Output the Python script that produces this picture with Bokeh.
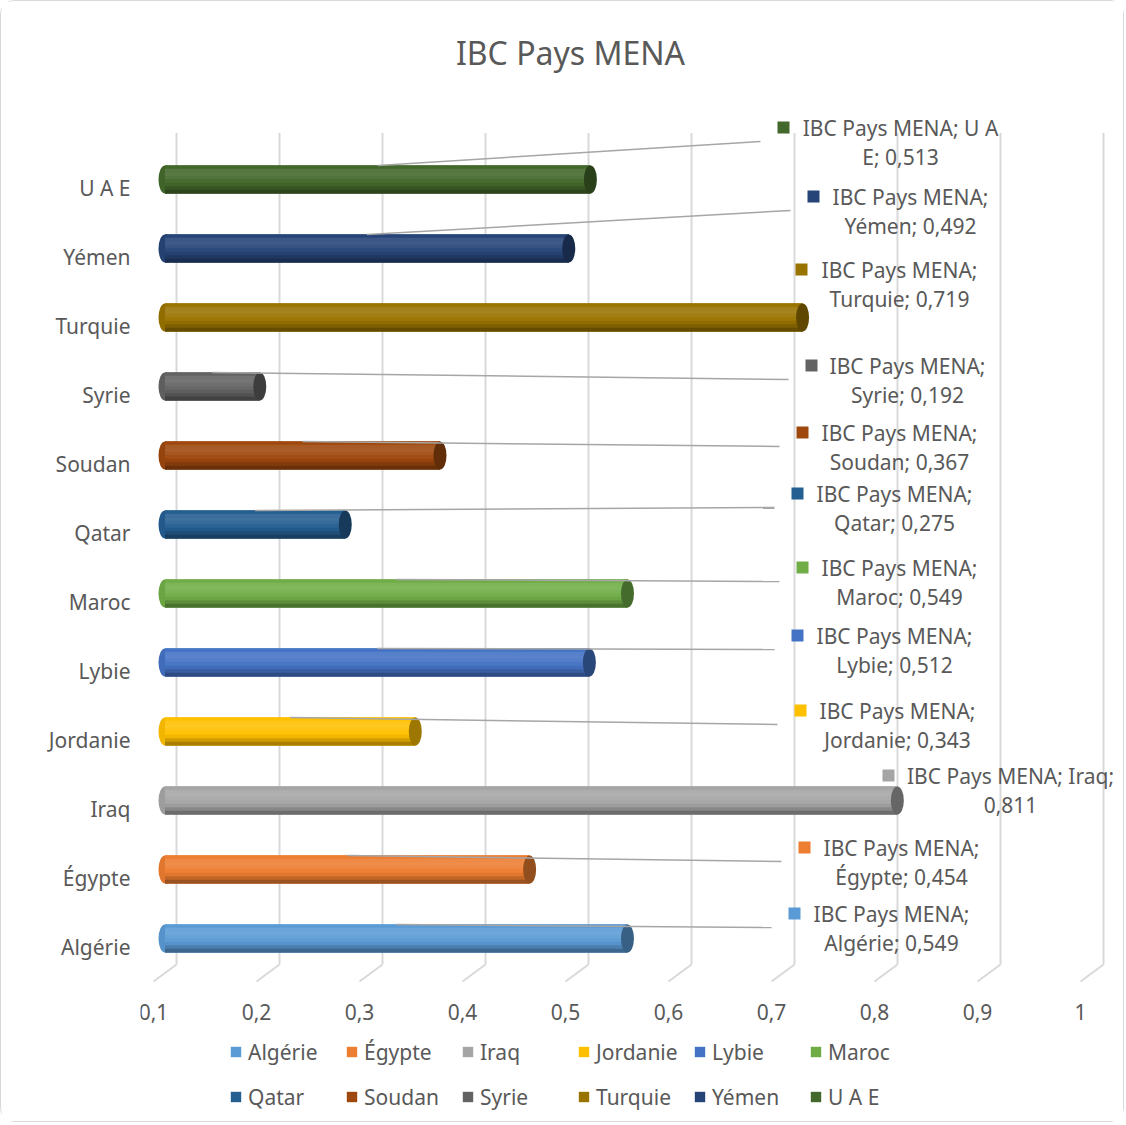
import numpy as np
from bokeh.plotting import figure
from bokeh.models import (Range1d, LinearAxis, FixedTicker, ColumnDataSource,
                          Legend, LegendItem)
from bokeh.core.properties import value
from bokeh.embed import file_html
from bokeh.resources import INLINE

# ---------------- data ----------------
SERIES = "IBC Pays MENA"
CATEGORIES = ["Algérie", "Égypte", "Iraq", "Jordanie", "Lybie", "Maroc",
              "Qatar", "Soudan", "Syrie", "Turquie", "Yémen", "U A E"]
VALUES = [0.549, 0.454, 0.811, 0.343, 0.512, 0.549,
          0.275, 0.367, 0.192, 0.719, 0.492, 0.513]
COLORS = ["#5B9BD5", "#ED7D31", "#A5A5A5", "#FFC000", "#4472C4", "#70AD47",
          "#255E91", "#9E480E", "#636363", "#997300", "#264478", "#43682B"]
TICKS = [0.1, 0.2, 0.3, 0.4, 0.5, 0.6, 0.7, 0.8, 0.9, 1.0]
TICK_LABELS = ["0,1", "0,2", "0,3", "0,4", "0,5", "0,6", "0,7", "0,8", "0,9", "1"]
AXIS_MIN = 0.1

# ---------------- layout (page pixels) ----------------
FONT = "Noto Sans"
TXT = "#595959"
ORIGIN = 1            # page px of the canvas' top-left corner
CANVAS_W, CANVAS_H = 1124, 1122
PX_PER_X = 1030.0
PX_PER_CAT = 69.0
X_ORIGIN_PX = 164.5
Y_CAT0_PX = 938.0
DEPTH_DX = 11.5
DEPTH_DY = 8.5
FRAME_L = 140
FRAME_T = ORIGIN
FRAME_R = ORIGIN + CANVAS_W - 1
FRAME_B = ORIGIN + CANVAS_H
TITLE_X, TITLE_Y = 570, 52
TICK_LABEL_Y = 1011
LEGEND_X = 229
LEGEND_ROWS_Y = [1052, 1097]

# data-label placement: square x, first-line y, text centre x, words on line 1
LABEL_SQ_X = [794, 804, 888, 800, 797, 802, 797, 802, 811, 801, 813, 783]
LABEL_L1_Y = [913, 847, 775, 710, 635, 567, 493, 432, 365, 269, 196, 127]
LABEL_CX = [891, 901, 1010, 897, 894, 899, 894, 899, 907, 899, 910, 900]
LABEL_WORDS1 = [3, 3, 4, 3, 3, 3, 3, 3, 3, 3, 3, 5]
LABEL_LEADER = [1, 1, 0, 1, 1, 1, 1, 1, 1, 0, 1, 1]


def xd(px):
    return AXIS_MIN + (px - X_ORIGIN_PX) / PX_PER_X


def yd(py):
    return (Y_CAT0_PX - py) / PX_PER_CAT


def mix(hexc, f):
    h = hexc.lstrip("#")
    r, g, b = (int(h[i:i + 2], 16) for i in (0, 2, 4))
    t = 255 if f > 0 else 0
    a = abs(f)
    r, g, b = (round(c + (t - c) * a) for c in (r, g, b))
    return "#%02x%02x%02x" % (r, g, b)


p = figure(width=CANVAS_W, height=CANVAS_H,
           x_range=Range1d(xd(FRAME_L), xd(FRAME_R)),
           y_range=Range1d(yd(FRAME_B), yd(FRAME_T)),
           output_backend="svg", toolbar_location=None,
           x_axis_type=None, y_axis_type=None,
           min_border_left=FRAME_L - ORIGIN,
           min_border_right=ORIGIN + CANVAS_W - FRAME_R,
           min_border_top=0, min_border_bottom=0)
p.outline_line_color = None
p.background_fill_color = "white"
p.border_fill_color = "white"
p.styles = {"border": "1px solid #d9d9d9", "border-radius": "14px"}

ddx = DEPTH_DX / PX_PER_X
ddy = DEPTH_DY / PX_PER_CAT
p.extra_y_ranges = {"front": Range1d(yd(FRAME_B) + ddy, yd(FRAME_T) + ddy)}

# title
p.text(x=[xd(TITLE_X)], y=[yd(TITLE_Y)], text=[SERIES], text_align="center",
       text_baseline="middle", text_font=value(FONT), text_font_size="32px",
       text_color=TXT)

# category axis (front plane)
yaxis = LinearAxis(y_range_name="front",
                   ticker=FixedTicker(ticks=list(range(len(CATEGORIES)))),
                   major_label_overrides={i: c for i, c in enumerate(CATEGORIES)})
yaxis.axis_line_color = None
yaxis.major_tick_line_color = None
yaxis.minor_tick_line_color = None
yaxis.major_tick_in = 0
yaxis.major_tick_out = 0
yaxis.major_label_text_font = FONT
yaxis.major_label_text_font_size = "21px"
yaxis.major_label_text_color = TXT
yaxis.major_label_standoff = 10
p.add_layout(yaxis, "left")

# 3D grid (back wall verticals + floor diagonals)
n = len(CATEGORIES)
gx = np.array(TICKS)
back_x = gx + ddx
front_x = gx - ddx
p.segment(back_x, -0.5 + ddy, back_x, n - 0.45 + ddy, line_color="#d9d9d9", line_width=2)
p.segment(back_x, -0.5 + ddy, front_x, -0.5 - ddy, line_color="#d9d9d9", line_width=2)

# value tick labels (front plane)
p.text(x=front_x, y=yd(TICK_LABEL_Y), text=TICK_LABELS, text_align="center",
       text_baseline="middle", text_font=value(FONT), text_font_size="21px",
       text_color=TXT)

# cylinders
idx = np.arange(n)
vals = np.array(VALUES)
H = 28.0 / PX_PER_CAT
src = ColumnDataSource(dict(y=idx, v=vals, base=COLORS,
                            dark=[mix(c, -0.38) for c in COLORS],
                            left=[mix(c, -0.05) for c in COLORS]))
p.ellipse(x=AXIS_MIN, y="y", width=13, width_units="screen", height=H,
          fill_color="left", line_color=None, source=src)
r_main = p.hbar(y="y", left=AXIS_MIN, right="v", height=H, fill_color="base",
                line_color=None, source=src)
SHADES = [0.0, 0.1, 0.12, 0.08, 0.03, -0.05, -0.18, -0.34]
NS = len(SHADES)
for k, f in enumerate(SHADES):
    s = ColumnDataSource(dict(y=idx + H / 2 - (k + 0.5) * H / NS, v=vals,
                              c=[mix(c, f) for c in COLORS]))
    p.hbar(y="y", left=AXIS_MIN, right="v", height=H / NS * 1.08,
           fill_color="c", line_color=None, source=s)
p.ellipse(x="v", y="y", width=13, width_units="screen", height=H,
          fill_color="dark", line_color=None, source=src)

# leader lines
lead = [i for i in range(n) if LABEL_LEADER[i]]
p.segment(x0=[(AXIS_MIN + vals[i]) / 2 for i in lead],
          y0=[idx[i] + H / 2 for i in lead],
          x1=[xd(LABEL_SQ_X[i] - 23) for i in lead],
          y1=[yd(LABEL_L1_Y[i] + 14) for i in lead],
          line_color="#a6a6a6", line_width=1.5)

# data labels
line1, line2 = [], []
for i in range(n):
    words = f"{SERIES}; {CATEGORIES[i]}; {('%.3f' % VALUES[i]).replace('.', ',')}".split(" ")
    k = LABEL_WORDS1[i]
    line1.append(" ".join(words[:k]))
    line2.append(" ".join(words[k:]))
p.scatter(x=[xd(v) for v in LABEL_SQ_X], y=[yd(v) for v in LABEL_L1_Y],
          marker="square", size=12, fill_color=COLORS, line_color=None)
p.text(x=[xd(v) for v in LABEL_CX], y=[yd(v) for v in LABEL_L1_Y], text=line1,
       text_align="center", text_baseline="middle", text_font=value(FONT),
       text_font_size="21px", text_color=TXT)
p.text(x=[xd(v) for v in LABEL_CX], y=[yd(v + 29.5) for v in LABEL_L1_Y], text=line2,
       text_align="center", text_baseline="middle", text_font=value(FONT),
       text_font_size="21px", text_color=TXT)

# legend (two rows)
for row in range(2):
    items = [LegendItem(label=CATEGORIES[i], renderers=[r_main], index=i)
             for i in range(row * 6, row * 6 + 6)]
    lg = Legend(items=items, orientation="horizontal",
                location=(LEGEND_X - FRAME_L, FRAME_B - LEGEND_ROWS_Y[row] - 13.5),
                glyph_width=13, glyph_height=13, label_standoff=6,
                label_width=92, label_height=13, spacing=5, padding=0, margin=0,
                border_line_color=None, background_fill_alpha=0,
                label_text_font=FONT, label_text_font_size="21px",
                label_text_color=TXT, label_text_baseline="middle")
    p.add_layout(lg, "center")

open("out.html", "w").write(file_html(p, INLINE))
